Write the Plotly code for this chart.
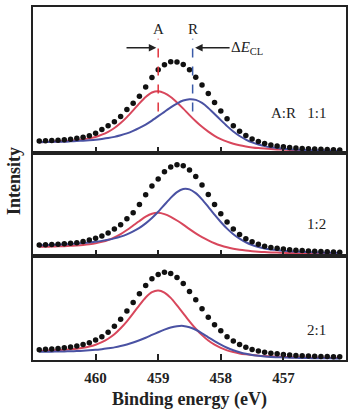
import plotly.graph_objects as go

# Binding energy grid (eV)
energy = [460.9, 460.8, 460.7, 460.6, 460.5, 460.4, 460.3, 460.2, 460.1, 460.0,
          459.9, 459.8, 459.7, 459.6, 459.5, 459.4, 459.3, 459.2, 459.1, 459.0,
          458.9, 458.8, 458.7, 458.6, 458.5, 458.4, 458.3, 458.2, 458.1, 458.0,
          457.9, 457.8, 457.7, 457.6, 457.5, 457.4, 457.3, 457.2, 457.1, 457.0,
          456.9, 456.8, 456.7, 456.6, 456.5, 456.4, 456.3, 456.2, 456.1]

# Panel 1  (A:R 1:1)
p1_dots = [12.3, 12.5, 12.8, 13.1, 13.5, 14.1, 14.9, 16.0, 17.5, 20.0,
           23.7, 27.6, 31.7, 36.9, 43.8, 50.3, 57.3, 66.6, 76.0, 83.8,
           88.8, 91.9, 91.6, 89.2, 83.9, 76.3, 68.5, 60.0, 51.0, 42.4,
           34.5, 27.7, 22.1, 17.7, 14.3, 11.7, 9.8, 8.3, 7.3, 6.5,
           5.8, 5.2, 4.8, 4.5, 4.2, 3.9, 3.6, 3.5, 3.3]
p1_red = [11.1, 11.3, 11.5, 11.8, 12.1, 12.5, 13.1, 13.8, 14.9, 16.3,
          18.6, 21.5, 25.3, 30.3, 36.3, 43.1, 50.1, 56.5, 61.0, 62.3,
          60.4, 56.5, 51.0, 44.8, 38.3, 32.1, 26.5, 21.7, 17.5, 14.2,
          11.6, 9.5, 7.9, 6.7, 5.8, 5.1, 4.6, 4.2, 3.8, 3.5,
          3.3, 3.1, 2.9, 2.7, 2.6, 2.5, 2.4, 2.3, 2.2]
p1_blue = [11.0, 11.2, 11.3, 11.5, 11.6, 11.9, 12.2, 12.6, 13.0, 13.5,
           14.3, 15.2, 16.4, 18.0, 19.9, 22.4, 25.4, 28.8, 32.8, 37.2,
           41.6, 46.0, 49.9, 52.9, 54.2, 53.6, 50.5, 45.5, 39.4, 33.2,
           27.2, 21.8, 17.3, 13.7, 10.8, 8.7, 7.1, 5.9, 5.1, 4.5,
           4.0, 3.6, 3.3, 3.1, 2.9, 2.7, 2.5, 2.4, 2.3]

# Panel 2  (1:2)
p2_dots = [10.7, 10.9, 11.1, 11.4, 11.8, 12.3, 13.0, 14.2, 15.7, 17.5,
           19.6, 22.6, 26.8, 31.0, 37.0, 43.2, 51.5, 61.3, 70.0, 77.0,
           84.2, 89.1, 91.4, 90.3, 86.0, 79.5, 71.0, 61.5, 51.5, 42.0,
           33.7, 26.8, 21.3, 17.0, 13.8, 11.3, 9.5, 8.2, 7.3, 6.5,
           5.8, 5.4, 5.0, 4.6, 4.3, 4.0, 3.8, 3.7, 3.4]
p2_red = [8.8, 8.9, 9.1, 9.3, 9.5, 9.8, 10.1, 10.6, 11.3, 12.3,
          13.8, 15.7, 18.3, 21.6, 25.7, 30.2, 34.8, 39.1, 42.1, 43.0,
          41.7, 39.0, 35.3, 31.1, 26.6, 22.4, 18.6, 15.3, 12.4, 10.1,
          8.3, 6.9, 5.8, 5.0, 4.4, 3.9, 3.5, 3.2, 3.0, 2.8,
          2.6, 2.5, 2.4, 2.3, 2.2, 2.1, 2.0, 2.0, 1.9]
p2_blue = [10.3, 10.5, 10.7, 11.0, 11.3, 11.7, 12.1, 12.6, 13.2, 13.9,
           14.8, 15.9, 17.3, 19.1, 21.4, 24.3, 27.9, 32.4, 37.8, 44.1,
           51.1, 58.0, 63.8, 67.0, 66.6, 62.8, 56.6, 49.0, 41.2, 33.8,
           27.1, 21.5, 17.0, 13.4, 10.7, 8.7, 7.2, 6.2, 5.5, 4.9,
           4.4, 4.0, 3.7, 3.5, 3.2, 3.0, 2.9, 2.8, 2.6]

# Panel 3  (2:1)
p3_dots = [10.4, 10.7, 11.1, 11.6, 12.2, 13.0, 14.1, 15.5, 17.4, 20.0,
           23.5, 28.0, 33.9, 41.0, 49.3, 57.8, 66.5, 74.8, 81.8, 86.0,
           88.3, 87.0, 83.0, 77.0, 69.0, 60.5, 51.5, 43.0, 35.5, 29.5,
           23.5, 19.0, 15.5, 12.8, 10.6, 9.0, 7.8, 6.9, 6.2, 5.5,
           5.0, 4.6, 4.3, 4.0, 3.8, 3.6, 3.4, 3.3, 3.2]
p3_red = [9.1, 9.4, 9.6, 9.9, 10.3, 10.8, 11.4, 12.3, 13.6, 15.4,
          17.9, 21.4, 25.9, 31.9, 38.9, 46.9, 55.2, 62.9, 68.3, 70.0,
          67.8, 62.5, 55.0, 47.0, 38.8, 31.4, 25.0, 19.6, 15.5, 12.2,
          9.7, 8.0, 6.6, 5.7, 5.0, 4.4, 4.0, 3.7, 3.4, 3.1,
          2.9, 2.7, 2.6, 2.4, 2.3, 2.2, 2.1, 2.1, 1.9]
p3_blue = [8.2, 8.3, 8.4, 8.5, 8.6, 8.8, 9.0, 9.3, 9.7, 10.2,
           10.8, 11.7, 12.7, 14.0, 15.6, 17.6, 19.9, 22.4, 25.2, 27.9,
           30.5, 32.7, 34.0, 34.3, 33.0, 30.4, 26.8, 22.8, 19.0, 15.4,
           12.3, 9.8, 7.8, 6.2, 5.1, 4.2, 3.6, 3.1, 2.8, 2.5,
           2.3, 2.2, 2.0, 1.9, 1.8, 1.7, 1.7, 1.6, 1.5]

tick_vals = [460, 459, 458, 457]
tick_text = ["460", "459", "458", "457"]
ratio_labels = ["A:R&nbsp;&nbsp;&nbsp;1:1", "1:2", "2:1"]
peak_A = 459.0
peak_R = 458.45

RED = "#d8475c"
BLUE = "#4a52a3"
DOT = "#111111"
INK = "#222222"
SERIF = "Liberation Serif"

panels = [(p1_dots, p1_red, p1_blue), (p2_dots, p2_red, p2_blue), (p3_dots, p3_red, p3_blue)]
suffix = ["", "2", "3"]
domains = [[0.5859, 1.0], [0.2958, 0.5859], [0.0, 0.2958]]
yranges = [[0, 147], [0, 103], [0, 105]]
label_y = [40, 32, 30]

fig = go.Figure()
for k, (dots, red, blue) in enumerate(panels):
    xa, ya = "x" + suffix[k], "y" + suffix[k]
    fig.add_trace(go.Scatter(x=energy, y=red, mode="lines", xaxis=xa, yaxis=ya,
                             line=dict(color=RED, width=2, shape="spline", smoothing=0.6),
                             showlegend=False, hoverinfo="skip"))
    fig.add_trace(go.Scatter(x=energy, y=blue, mode="lines", xaxis=xa, yaxis=ya,
                             line=dict(color=BLUE, width=2, shape="spline", smoothing=0.6),
                             showlegend=False, hoverinfo="skip"))
    fig.add_trace(go.Scatter(x=energy, y=dots, mode="markers", xaxis=xa, yaxis=ya,
                             marker=dict(color=DOT, size=5.5, line=dict(width=0)),
                             showlegend=False, hoverinfo="skip"))

layout = dict(
    width=354, height=413,
    margin=dict(l=33, r=8, t=5, b=53),
    paper_bgcolor="white", plot_bgcolor="white",
    font=dict(family=SERIF, color=INK),
)
for k in range(3):
    xkey = "xaxis" + suffix[k]
    ykey = "yaxis" + suffix[k]
    layout[xkey] = dict(
        domain=[0, 1], anchor="y" + suffix[k], range=[461, 456],
        tickvals=tick_vals, ticktext=tick_text,
        ticks="inside", ticklen=6, tickwidth=1.5, tickcolor=INK,
        showline=True, linewidth=2, linecolor=INK, mirror=True,
        showgrid=False, zeroline=False,
        showticklabels=(k == 2),
        tickfont=dict(family=SERIF, size=15, color=INK, weight="bold"),
        ticklabelstandoff=3,
    )
    layout[ykey] = dict(
        domain=domains[k], anchor="x" + suffix[k], range=yranges[k],
        showline=True, linewidth=2, linecolor=INK, mirror=True,
        showgrid=False, zeroline=False, showticklabels=False, ticks="",
    )
fig.update_layout(**layout)

ann = []
# peak labels
ann.append(dict(x=peak_A, y=125, xref="x", yref="y", text="A", showarrow=False,
                font=dict(family=SERIF, size=15, color=INK)))
ann.append(dict(x=peak_R, y=125, xref="x", yref="y", text="R", showarrow=False,
                font=dict(family=SERIF, size=15, color=INK)))
# left arrow (points right, toward the A line)
ann.append(dict(x=459.03, y=106, ax=459.53, ay=106, xref="x", yref="y", axref="x", ayref="y",
                text="", showarrow=True, arrowhead=2, arrowsize=1, arrowwidth=1.5, arrowcolor=INK))
# ΔE_CL label with its arrow pointing left toward the R line
ann.append(dict(x=458.41, y=106, ax=457.58, ay=106, xref="x", yref="y", axref="x", ayref="y",
                text="Δ<i>E</i><sub>CL</sub>", showarrow=True, arrowhead=2, arrowsize=1,
                arrowwidth=1.5, arrowcolor=INK, standoff=0,
                font=dict(family=SERIF, size=15, color=INK)))
# ratio labels
for k in range(3):
    ann.append(dict(x=456.28, y=label_y[k], xref="x" + suffix[k], yref="y" + suffix[k],
                    xanchor="right", text=ratio_labels[k], showarrow=False,
                    font=dict(family=SERIF, size=15, color=INK)))
# axis titles
ann.append(dict(x=0.5, y=-0.1127, xref="paper", yref="paper", yanchor="middle",
                text="<b>Binding energy (eV)</b>", showarrow=False,
                font=dict(family=SERIF, size=18, color=INK)))
ann.append(dict(x=-0.0607, y=0.507, xref="paper", yref="paper", textangle=-90,
                xanchor="center", yanchor="middle",
                text="<b>Intensity</b>", showarrow=False,
                font=dict(family=SERIF, size=18, color=INK)))
fig.update_layout(annotations=ann)

fig.update_layout(shapes=[
    dict(type="line", xref="x", yref="y", x0=peak_A, x1=peak_A, y0=42, y1=115,
         line=dict(color="#e0323c", width=1.5, dash="dash")),
    dict(type="line", xref="x", yref="y", x0=peak_R, x1=peak_R, y0=42, y1=115,
         line=dict(color="#3a5aa8", width=1.5, dash="dash")),
])

fig.write_html("out.html")
